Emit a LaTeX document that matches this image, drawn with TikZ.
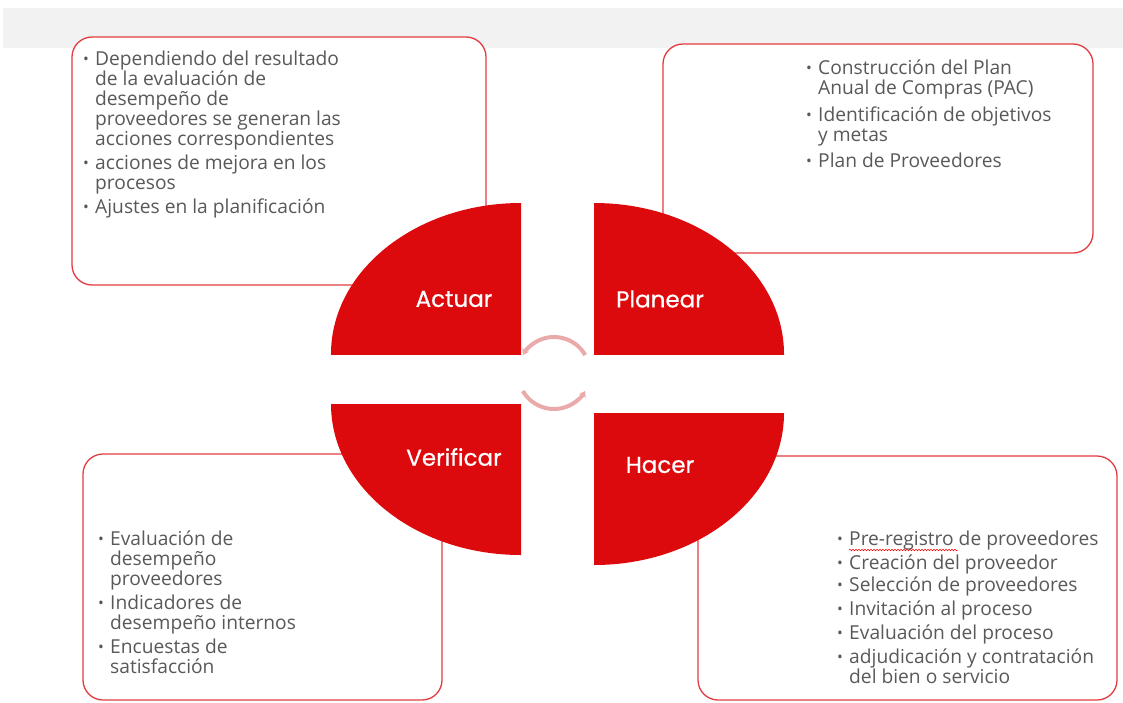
\documentclass[tikz,border=0pt]{standalone}
\usepackage{fontspec}
\setmainfont{Open Sans}
\newfontfamily\labelfont[FakeBold=0.6]{Poppins}
\usetikzlibrary{arrows.meta,decorations.pathmorphing}
\definecolor{pdcared}{RGB}{221,10,13}
\definecolor{boxred}{RGB}{226,60,64}
\definecolor{txtgray}{RGB}{89,89,89}
\definecolor{bandgray}{RGB}{242,242,242}
\definecolor{cyclepink}{RGB}{234,170,170}
\def\Bw{12pt}
\newcommand{\itm}[1]{\makebox[\Bw][l]{\raisebox{1pt}{\scalebox{0.8}{\textbullet}}}#1}
\newcommand{\cnt}[1]{\hspace*{\Bw}#1}

\begin{document}
\begin{tikzpicture}[x=1pt,y=-1pt,% pixel grid of the original slide
				every node/.style={inner sep=0pt},
				infobox/.style={draw=boxred,line width=1.3pt,fill=white,rounded corners=20pt},
				quarter/.style={fill=pdcared},
				phase/.style={text=white,font=\labelfont\fontsize{23}{26}\selectfont},
				bullets/.style={anchor=north west,align=left,text=txtgray,
					font=\fontsize{19.2}{20}\selectfont},
				cycle/.style={draw=cyclepink,line width=4pt,-{Stealth[length=6pt,width=8pt]}}
			]
			\useasboundingbox (0,0) rectangle (1123,702);
			\fill[bandgray] (3,8) rectangle (1123,48);
			% the four text boxes
			\draw[infobox] (72,37) rectangle (486,285);
			\draw[infobox] (663,44) rectangle (1093,253);
			\draw[infobox] (83,454) rectangle (442,700);
			\draw[infobox] (698,456) rectangle (1117,700);
			% circular arrows in the middle
			\draw[cycle] (554,373) ++(150:36) arc[start angle=150,end angle=30,radius=36];
			\draw[cycle] (554,373) ++(-30:36) arc[start angle=-30,end angle=-150,radius=36];
			% quarters of the ellipse
			\begin{scope}\clip (331,203) rectangle (521,354);
				\fill[quarter] (521,354) ellipse [x radius=190,y radius=151];\end{scope}
			\begin{scope}\clip (594,203) rectangle (784,354);
				\fill[quarter] (594,354) ellipse [x radius=190,y radius=151];\end{scope}
			\begin{scope}\clip (331,404) rectangle (521,555);
				\fill[quarter] (521,404) ellipse [x radius=190,y radius=151];\end{scope}
			\begin{scope}\clip (594,413) rectangle (784,565);
				\fill[quarter] (594,413) ellipse [x radius=190,y radius=152];\end{scope}
			\node[phase](actuar) at (454,299){Actuar};
			\node[phase](planear) at (660,299){Planear};
			\node[phase](verificar) at (454,457){Verificar};
			\node[phase](hacer) at (660,465){Hacer};
			% texts
			\node[bullets](tact) at (83,51){\itm{Dependiendo del resultado}\\
				\cnt{de la evaluación de}\\ \cnt{desempeño de}\\
				\cnt{proveedores se generan las}\\ \cnt{acciones correspondientes}\\[4pt]
				\itm{acciones de mejora en los}\\ \cnt{procesos}\\[4pt]
				\itm{Ajustes en la planificación}};
			\node[bullets](tplan) at (806,60){\itm{Construcción del Plan}\\
				\cnt{Anual de Compras (PAC)}\\[7pt]
				\itm{Identificación de objetivos}\\ \cnt{y metas}\\[6pt]
				\itm{Plan de Proveedores}};
			\node[bullets](tver) at (98,531){\itm{Evaluación de}\\
				\cnt{desempeño}\\ \cnt{proveedores}\\[4pt]
				\itm{Indicadores de}\\ \cnt{desempeño internos}\\[4pt]
				\itm{Encuestas de}\\ \cnt{satisfacción}};
			\node[bullets](thac) at (837,531){\itm{Pre-registro de proveedores}\\[4pt]
				\itm{Creación del proveedor}\\[2pt]
				\itm{Selección de proveedores}\\[4pt]
				\itm{Invitación al proceso}\\[4pt]
				\itm{Evaluación del proceso}\\[4pt]
				\itm{adjudicación y contratación}\\ \cnt{del bien o servicio}};
			\draw[red,line width=0.5pt,decorate,decoration={snake,amplitude=0.8pt,segment length=3pt}]
				(849,550) -- (958,550);
		\end{tikzpicture}
\end{document}
